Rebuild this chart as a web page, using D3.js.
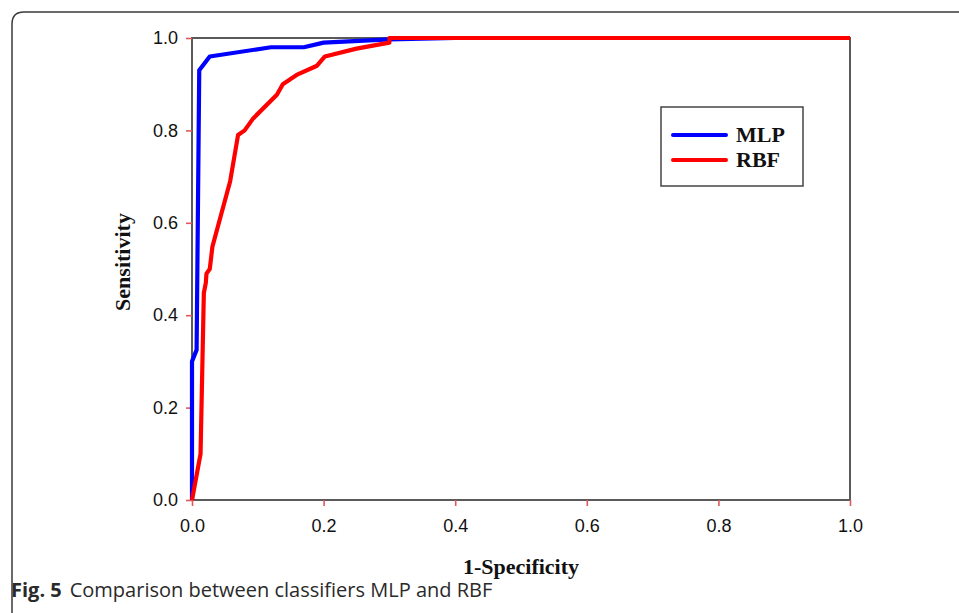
<!DOCTYPE html>
<html>
<head>
<meta charset="utf-8">
<script src="https://cdn.jsdelivr.net/npm/d3@7"></script>
<style>
  html, body { margin: 0; padding: 0; background: #fff; }
  svg { display: block; }
</style>
</head>
<body>
<svg id="chart" width="959" height="613"></svg>
<script>
// ROC points: [1-specificity, sensitivity]
const mlpPoints = [
    [0, 0], [0, 0.30], [0.007, 0.325], [0.011, 0.93], [0.027, 0.96],
    [0.12, 0.98], [0.17, 0.98], [0.20, 0.99], [0.30, 0.997], [0.40, 1.0], [1.0, 1.0]
];
const rbfPoints = [
    [0, 0], [0.013, 0.10], [0.018, 0.448], [0.021, 0.47], [0.022, 0.49],
    [0.027, 0.50], [0.031, 0.548], [0.058, 0.69], [0.070, 0.79], [0.080, 0.80],
    [0.093, 0.826], [0.129, 0.877], [0.138, 0.90], [0.159, 0.92], [0.19, 0.94],
    [0.202, 0.96], [0.25, 0.977], [0.30, 0.99], [0.30, 1.0], [1.0, 1.0]
];
const xTicks = [0, 0.2, 0.4, 0.6, 0.8, 1.0];
const yTicks = [0, 0.2, 0.4, 0.6, 0.8, 1.0];
const seriesNames = ["MLP", "RBF"];
const seriesColors = ["#0000ff", "#ff0000"];

const svg = d3.select("#chart");

// outer figure frame: only top and left edges, rounded corner
svg.append("path")
    .attr("d", "M12,613 L12,24 Q12,12 24,12 L959,12")
    .attr("fill", "none")
    .attr("stroke", "#3a3a3a")
    .attr("stroke-width", 1.5);

const plotLeft = 192, plotRight = 850, plotTop = 38, plotBottom = 500;
const x = d3.scaleLinear().domain([0, 1]).range([plotLeft, plotRight]);
const y = d3.scaleLinear().domain([0, 1]).range([plotBottom, plotTop]);

// plot box
svg.append("rect")
    .attr("x", plotLeft).attr("y", plotTop)
    .attr("width", plotRight - plotLeft).attr("height", plotBottom - plotTop)
    .attr("fill", "none")
    .attr("stroke", "#5a5a5a")
    .attr("stroke-width", 2);

const tickColor = "#e0585a";
const labelFont = "'Liberation Sans', Arial, sans-serif";

const xAxis = svg.append("g")
    .attr("transform", `translate(0,${plotBottom})`)
    .call(d3.axisBottom(x).tickValues(xTicks).tickFormat(d3.format(".1f")).tickSize(6).tickPadding(13));
const yAxis = svg.append("g")
    .attr("transform", `translate(${plotLeft},0)`)
    .call(d3.axisLeft(y).tickValues(yTicks).tickFormat(d3.format(".1f")).tickSize(6).tickPadding(8));

[xAxis, yAxis].forEach(g => {
    g.select(".domain").remove();
    g.selectAll(".tick line").attr("stroke", tickColor).attr("stroke-width", 1.6);
    g.selectAll(".tick text")
        .attr("fill", "#111")
        .style("font-family", labelFont)
        .style("font-size", "18px");
});

// curves (red drawn last, it sits on top in the original)
const line = d3.line().x(d => x(d[0])).y(d => y(d[1]));
[mlpPoints, rbfPoints].forEach((pts, i) => {
    svg.append("path")
        .datum(pts)
        .attr("d", line)
        .attr("fill", "none")
        .attr("stroke", seriesColors[i])
        .attr("stroke-width", 4.2)
        .attr("stroke-linejoin", "round");
});

// axis titles
const titleFont = "'Liberation Serif', 'Times New Roman', serif";
svg.append("text")
    .attr("x", 521).attr("y", 574)
    .attr("text-anchor", "middle")
    .style("font-family", titleFont)
    .style("font-weight", "bold")
    .style("font-size", "22px")
    .attr("fill", "#111")
    .text("1-Specificity");
svg.append("text")
    .attr("transform", "translate(130,262) rotate(-90)")
    .attr("text-anchor", "middle")
    .style("font-family", titleFont)
    .style("font-weight", "bold")
    .style("font-size", "22px")
    .attr("fill", "#111")
    .text("Sensitivity");

// legend
const legend = svg.append("g");
legend.append("rect")
    .attr("x", 661).attr("y", 107)
    .attr("width", 142).attr("height", 79)
    .attr("fill", "#fff")
    .attr("stroke", "#444")
    .attr("stroke-width", 1.5);
seriesNames.forEach((name, i) => {
    const ly = 135 + i * 25;
    legend.append("line")
        .attr("x1", 673).attr("x2", 726)
        .attr("y1", ly).attr("y2", ly)
        .attr("stroke", seriesColors[i])
        .attr("stroke-width", 4)
        .attr("stroke-linecap", "round");
    legend.append("text")
        .attr("x", 736).attr("y", ly + 7)
        .style("font-family", titleFont)
        .style("font-weight", "bold")
        .style("font-size", "22px")
        .attr("fill", "#111")
        .text(name);
});

// caption
const caption = svg.append("text")
    .attr("x", 11).attr("y", 597)
    .style("font-family", "'Open Sans', sans-serif")
    .style("font-size", "20px")
    .attr("fill", "#2a2a2a");
caption.append("tspan").style("font-weight", "bold").text("Fig. 5");
caption.append("tspan").attr("dx", 8).text("Comparison between classifiers MLP and RBF");
</script>
</body>
</html>
